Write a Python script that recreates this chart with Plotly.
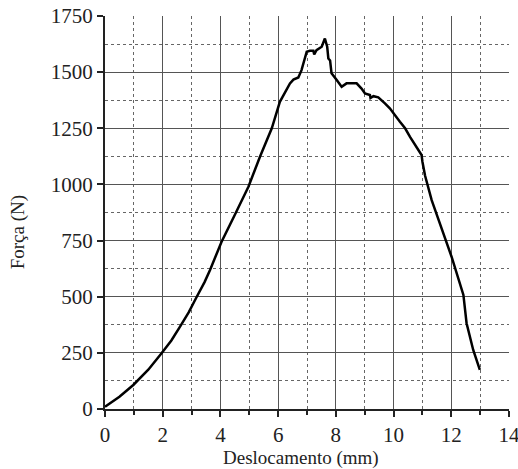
import plotly.graph_objects as go

# displacement (mm) and force (N)
deslocamento = [0.0, 0.5, 0.98, 1.5, 1.96, 2.3, 2.6, 2.9, 3.18, 3.45, 3.64, 4.04,
                4.5, 4.97, 5.37, 5.78, 6.06, 6.41, 6.53, 6.7, 6.81, 6.99, 7.1,
                7.22, 7.25, 7.33, 7.51, 7.62, 7.70, 7.74, 7.80, 7.85, 8.03, 8.2,
                8.37, 8.72, 8.89, 9.01, 9.18, 9.2, 9.3, 9.47, 9.7, 9.87, 10.22,
                10.4, 10.57, 10.8, 10.97, 11.0, 11.09, 11.32, 11.61, 12.01,
                12.42, 12.53, 12.76, 12.99]
forca = [10, 55, 107, 175, 248, 305, 367, 430, 500, 565, 619, 745,
         865, 990, 1123, 1250, 1368, 1450, 1467, 1476, 1509, 1591, 1595,
         1595, 1579, 1598, 1613, 1650, 1613, 1561, 1552, 1495, 1465, 1435,
         1450, 1450, 1427, 1405, 1398, 1385, 1393, 1388, 1361, 1339, 1279,
         1250, 1212, 1168, 1131, 1101, 1040, 930, 827, 678,
         508, 382, 263, 174]

x_ticks = [0, 2, 4, 6, 8, 10, 12, 14]
y_ticks = [0, 250, 500, 750, 1000, 1250, 1500, 1750]

font_family = "Liberation Serif, Times New Roman, serif"

fig = go.Figure()
fig.add_trace(go.Scatter(x=deslocamento, y=forca, mode="lines",
                         line=dict(color="black", width=2.5)))

fig.update_xaxes(
    range=[0, 14],
    tickvals=x_ticks,
    automargin=False,
    showline=True,
    linewidth=2,
    linecolor="#222",
    ticks="outside",
    ticklen=6,
    tickwidth=1.5,
    tickcolor="#222",
    showgrid=True,
    gridcolor="#555",
    gridwidth=1.3,
    zeroline=False,
    minor=dict(dtick=1, showgrid=True, griddash="dot", gridcolor="#666",
               gridwidth=1.2, ticks="outside", ticklen=4, tickcolor="#222"),
    tickfont=dict(size=21, color="#222"),
    ticklabeloverflow="allow",
)
fig.update_yaxes(
    range=[0, 1750],
    tickvals=y_ticks,
    automargin=False,
    showline=True,
    linewidth=2,
    linecolor="#222",
    ticks="outside",
    ticklen=6,
    tickwidth=1.5,
    tickcolor="#222",
    showgrid=True,
    gridcolor="#555",
    gridwidth=1.3,
    zeroline=False,
    minor=dict(dtick=125, showgrid=True, griddash="dot", gridcolor="#666",
               gridwidth=1.2),
    tickfont=dict(size=21, color="#222"),
    ticklabeloverflow="allow",
)

fig.add_annotation(text="Força (N)", xref="paper", yref="paper", x=-0.215, y=0.45,
                   xanchor="center", yanchor="middle", textangle=-90,
                   showarrow=False, font=dict(size=19, color="#222"))
fig.add_annotation(text="Deslocamento (mm)", xref="paper", yref="paper", x=0.485,
                   y=-0.125, xanchor="center", yanchor="middle", showarrow=False,
                   font=dict(size=19, color="#222"))

fig.update_layout(
    showlegend=False,
    plot_bgcolor="white",
    paper_bgcolor="white",
    width=518,
    height=469,
    margin=dict(l=105, r=9, t=16, b=60),
    font=dict(family=font_family, color="#222"),
)

# no page margin or scrollbar, so the figure fills the window exactly
fig.write_html(
    "out.html",
    config={"displayModeBar": False, "responsive": False},
    post_script="document.body.style.margin='0';document.body.style.overflow='hidden';",
)
